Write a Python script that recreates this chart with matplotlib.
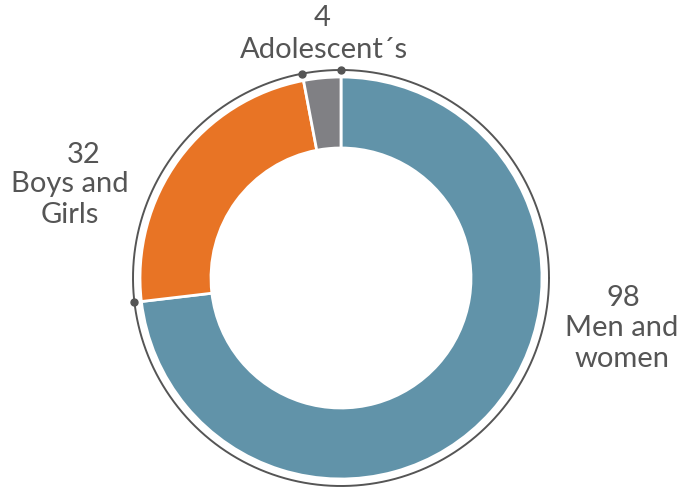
import numpy as np
import matplotlib.pyplot as plt

labels = ["Men and\nwomen", "Boys and\nGirls", "Adolescent\u00b4s"]
values = [98, 32, 4]
colors = ["#6193a9", "#e87425", "#808084"]

plt.rcParams['font.family'] = ['Lato', 'DejaVu Sans']
txt = "#555555"

fig = plt.figure(figsize=(6.81, 4.87), dpi=100)
ax = fig.add_axes([0, 0, 1, 1])

cx, cy = 341, 487 - 278
r = 201
ax.pie(values, colors=colors, startangle=90, counterclock=False,
       center=(cx, cy), radius=r, frame=True,
       wedgeprops=dict(width=71, edgecolor="white", linewidth=2))
ax.set_xlim(0, 681)
ax.set_ylim(0, 487)
ax.set_aspect("equal")
ax.axis("off")

# outer ring with dots at the segment borders
R = 208
t = np.linspace(0, 2 * np.pi, 400)
ax.plot(cx + R * np.cos(t), cy + R * np.sin(t), color="#555555", lw=1.4)
cum = np.cumsum([0] + values[:-1]) / sum(values)
ang = np.deg2rad(90 - cum * 360)
ax.plot(cx + R * np.cos(ang), cy + R * np.sin(ang), "o", color="#555555", ms=5)

# labels: (number x, number y, label x, label y)
pos = [(623, 298, 622, 328), (84, 155, 70, 184), (322, 18, 324, 50)]
for (nx, ny, lx, ly), v, lab in zip(pos, values, labels):
    ax.text(nx, 487 - ny, str(v), ha="center", va="center", fontsize=21, color=txt)
    for i, line in enumerate(lab.split("\n")):
        ax.text(lx, 487 - ly - 31 * i, line, ha="center", va="center",
                fontsize=21, color=txt)

fig.savefig("out.png", dpi=100)
